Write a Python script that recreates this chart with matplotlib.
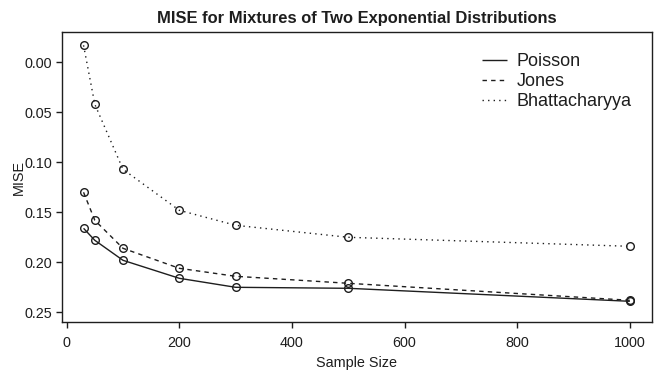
import matplotlib
matplotlib.use("Agg")
import matplotlib.pyplot as plt
from matplotlib.lines import Line2D

plt.rcParams['font.family'] = ['Liberation Sans', 'DejaVu Sans']

sample_size = [30, 50, 100, 200, 300, 500, 1000]
mise_poisson = [0.166, 0.178, 0.198, 0.216, 0.225, 0.226, 0.239]
mise_jones = [0.130, 0.158, 0.186, 0.206, 0.214, 0.221, 0.238]
mise_bhatt = [-0.017, 0.042, 0.107, 0.148, 0.163, 0.175, 0.184]
series_names = ["Poisson", "Jones", "Bhattacharyya"]

x_ticks = [0, 200, 400, 600, 800, 1000]
y_ticks = [0.00, 0.05, 0.10, 0.15, 0.20, 0.25]

ink = "#1e1e1e"
styles = [(0, ()), (0, (3.2, 3)), (0, (1, 3))]

W, H = 658, 371
fig = plt.figure(figsize=(W / 100, H / 100), dpi=100)
ax = fig.add_axes([61.7 / W, 1 - 322.3 / H, (651.7 - 61.7) / W, (322.3 - 32.3) / H])

for vals, ls in zip([mise_poisson, mise_jones, mise_bhatt], styles):
    ax.plot(sample_size, vals, color=ink, lw=1.0, linestyle=ls,
            marker="o", markersize=5.5, markerfacecolor="none",
            markeredgecolor=ink, markeredgewidth=1.0)

ax.set_xlim(-8.8, 1038.8)
ax.set_ylim(0.26, -0.030)
ax.set_xticks(x_ticks)
ax.set_xticklabels([str(v) for v in x_ticks])
ax.set_yticks(y_ticks)
ax.set_yticklabels([f"{v:.2f}" for v in y_ticks])

for s in ax.spines.values():
    s.set_color(ink)
    s.set_linewidth(1.0)
ax.tick_params(direction="out", length=4.5, width=1.0, color=ink,
               labelsize=10.4, labelcolor=ink)
ax.tick_params(axis="x", pad=5.5)
ax.tick_params(axis="y", pad=2.5)

ax.set_xlabel("Sample Size", fontsize=10.4, color=ink, labelpad=4.5)
ax.set_ylabel("MISE", fontsize=10.4, color=ink, labelpad=-1.5)
ax.set_title("MISE for Mixtures of Two Exponential Distributions",
             fontsize=11.9, fontweight="bold", color=ink, pad=6.5)

handles = [Line2D([], [], color=ink, lw=1.0, linestyle=ls) for ls in styles]
ax.legend(handles, series_names, loc="upper left",
          bbox_to_anchor=(481.7 / W, 1 - 53 / H), bbox_transform=fig.transFigure,
          frameon=False, fontsize=13, handlelength=1.39, handletextpad=0.55,
          labelspacing=0.17, borderpad=0, borderaxespad=0, labelcolor=ink)

fig.savefig("out.png", dpi=100)
